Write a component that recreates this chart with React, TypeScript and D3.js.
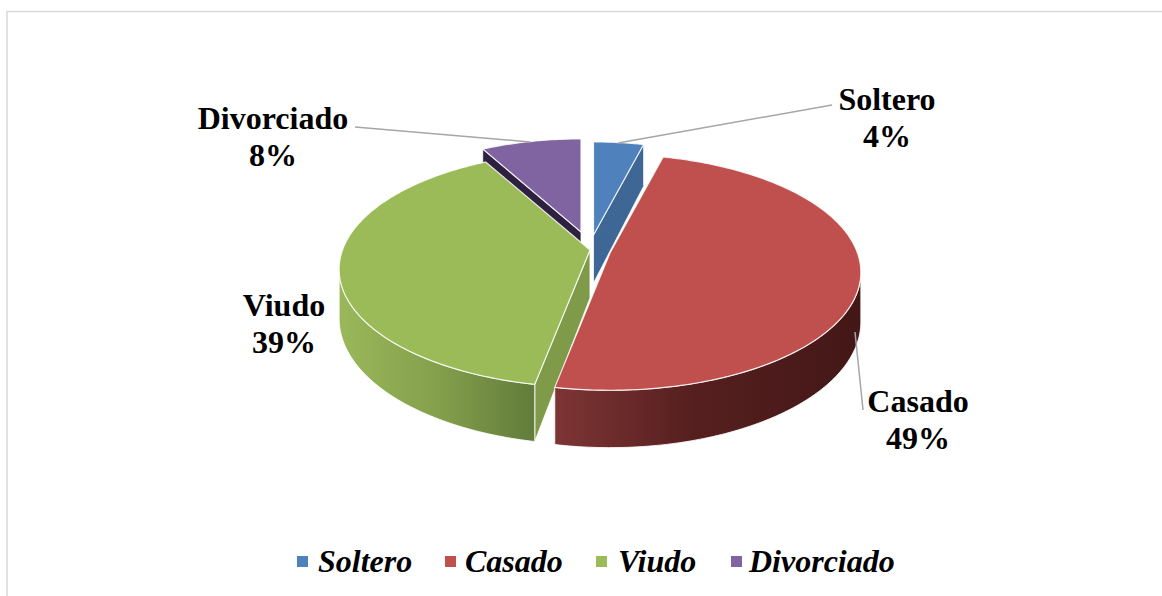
import React from "react";
import * as d3 from "d3";

const categories = ["Soltero", "Casado", "Viudo", "Divorciado"];
const values = [4, 49, 39, 8];
const labels = ["4%", "49%", "39%", "8%"];
const topColors = ["#4f81bd", "#c0504d", "#9bbb59", "#8064a2"];
const cutColors = ["#3e6795", "#7a3232", "#7f9b4a", "#2e2140"];

// exploded-slice layout
const apexX = [593.5, 610, 590, 581];
const apexY = [235, 253, 250, 232];
const sliceScale = [0.925, 0.99, 0.99, 0.925];
const drawOrder = [0, 3, 2, 1];
const RX = 250;
const RY = 116;
const PERSP = 0.165;
const DEPTH = 48;

const labelCx = [887, 918, 284, 273];
const labelY1 = [110, 412, 316, 129];
const leaderLines: [number, number][][] = [
  [[618, 143], [832, 105]],
  [[855, 332], [863, 410]],
  [],
  [[355, 127], [530, 142]],
];
const legendSwatchX = [297, 445, 596, 731];
const legendTextX = [318, 465, 618, 749];

const SERIF = "'Liberation Serif', 'Times New Roman', serif";

const line = d3.line<[number, number]>().x((d) => d[0]).y((d) => d[1]);

function project(i: number, theta: number, r = 1, drop = 0): [number, number] {
  const s = sliceScale[i];
  const X = s * r * Math.sin(theta);
  const Y = s * r * Math.cos(theta);
  const w = 1 + PERSP * Y;
  return [apexX[i] + (RX * X) / w, apexY[i] - (RY * Y) / w + (drop * DEPTH) / w];
}

function arcPts(i: number, a: number, b: number, drop = 0): [number, number][] {
  const n = Math.max(2, Math.ceil(Math.abs(b - a) * 60));
  return d3.range(n + 1).map((k) => project(i, a + ((b - a) * k) / n, 1, drop));
}

export default function App() {
  const arcs = d3.pie<number>().sort(null)(values);
  const turnR = Math.acos(-PERSP);
  const turnL = 2 * Math.PI - turnR;

  return (
    <svg
      width={1162}
      height={596}
      style={{ position: "absolute", left: 0, top: 0, background: "#fff" }}
    >
      <defs>
        <linearGradient id="redWall" gradientUnits="userSpaceOnUse" x1="556" x2="862" y1="0" y2="0">
          <stop offset="0" stopColor="#7d3534" />
          <stop offset="0.45" stopColor="#561f1f" />
          <stop offset="1" stopColor="#431717" />
        </linearGradient>
        <linearGradient id="greenWall" gradientUnits="userSpaceOnUse" x1="339" x2="534" y1="0" y2="0">
          <stop offset="0" stopColor="#9ab85a" />
          <stop offset="0.5" stopColor="#84a04c" />
          <stop offset="1" stopColor="#627c3b" />
        </linearGradient>
      </defs>

      <path d="M7 596V11.5H1162" fill="none" stroke="#d9d9d9" strokeWidth={1.5} />

      {drawOrder.map((i) => {
        const a = arcs[i];
        const apex = project(i, 0, 0);
        const apexLow = project(i, 0, 0, 1);
        const faces: React.ReactNode[] = [];
        // visible cut faces
        if (i === 0 || i === 3) {
          const cutAngle = i === 3 ? a.startAngle : a.endAngle;
          const rim = project(i, cutAngle);
          const rimLow = project(i, cutAngle, 1, 1);
          faces.push(
            <path
              key="cut"
              d={line([apex, rim, rimLow, apexLow])! + "Z"}
              fill={cutColors[i]}
              stroke="#fff"
              strokeOpacity={0.75}
              strokeWidth={1}
            />
          );
        }
        if (i === 2) {
          const rim = project(i, a.startAngle);
          const rimLow = project(i, a.startAngle, 1, 1);
          faces.push(
            <path
              key="cut"
              d={line([apex, rim, rimLow, apexLow])! + "Z"}
              fill={cutColors[i]}
              stroke="#fff"
              strokeOpacity={0.85}
              strokeWidth={1}
            />
          );
          const from = a.startAngle;
          const to = turnL;
          faces.push(
            <path
              key="wall"
              d={line([...arcPts(i, from, to), ...arcPts(i, to, from, 1)])! + "Z"}
              fill="url(#greenWall)"
              stroke="#fff"
              strokeOpacity={0.85}
              strokeWidth={1}
            />
          );
        }
        if (i === 1) {
          const from = turnR;
          const to = a.endAngle;
          faces.push(
            <path
              key="wall"
              d={line([...arcPts(i, from, to), ...arcPts(i, to, from, 1)])! + "Z"}
              fill="url(#redWall)"
              stroke="#fff"
              strokeOpacity={0.85}
              strokeWidth={1}
            />
          );
        }
        return (
          <g key={categories[i]}>
            {faces}
            <path
              d={line([apex, ...arcPts(i, a.startAngle, a.endAngle)])! + "Z"}
              fill={topColors[i]}
              stroke="#fff"
              strokeOpacity={0.85}
              strokeWidth={1.2}
              strokeLinejoin="round"
            />
          </g>
        );
      })}

      {leaderLines.map((pts, i) =>
        pts.length ? (
          <path key={i} d={line(pts)!} fill="none" stroke="#a6a6a6" strokeWidth={1.5} />
        ) : null
      )}

      {categories.map((c, i) => (
        <text
          key={c}
          textAnchor="middle"
          fontFamily={SERIF}
          fontWeight="bold"
          fontSize={32}
          fill="#000"
        >
          <tspan x={labelCx[i]} y={labelY1[i]}>{c}</tspan>
          <tspan x={labelCx[i]} y={labelY1[i] + 37}>{labels[i]}</tspan>
        </text>
      ))}

      {categories.map((c, i) => (
        <g key={c}>
          <rect x={legendSwatchX[i]} y={556} width={11} height={11} fill={topColors[i]} />
          <text
            x={legendTextX[i]}
            y={572}
            fontFamily={SERIF}
            fontWeight="bold"
            fontStyle="italic"
            fontSize={32}
            fill="#000"
          >
            {c}
          </text>
        </g>
      ))}
    </svg>
  );
}
